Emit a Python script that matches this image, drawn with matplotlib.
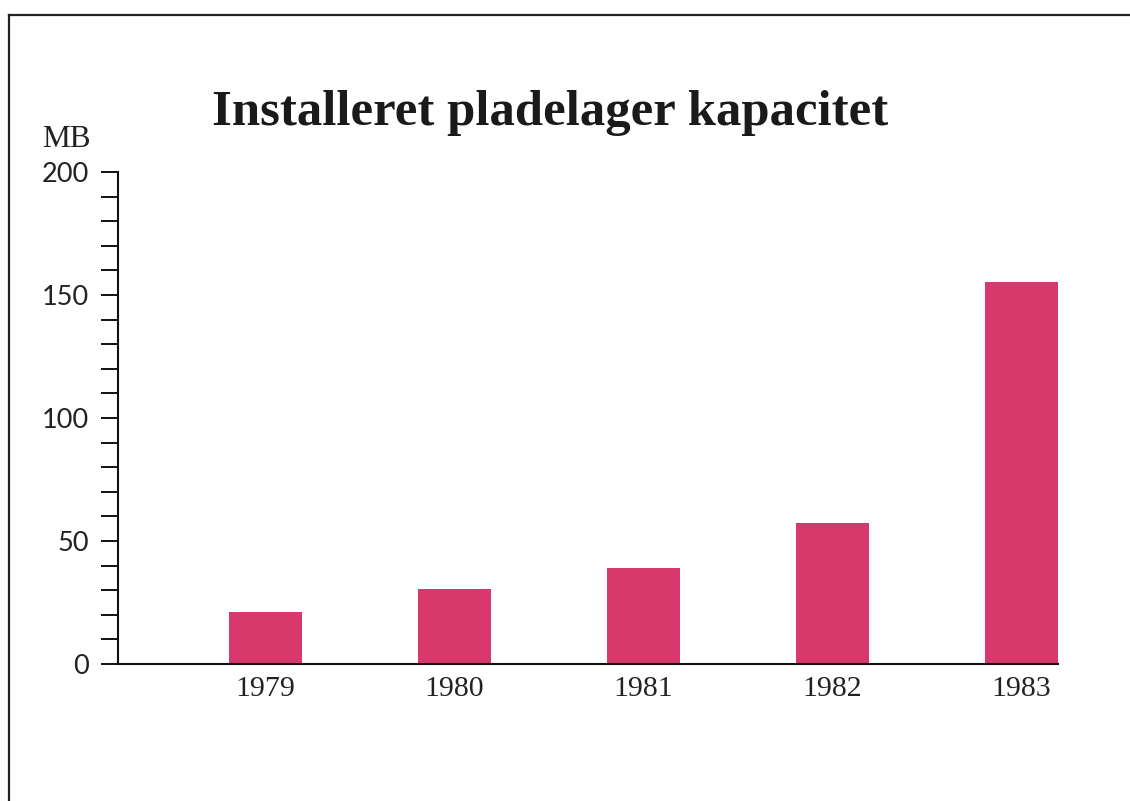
import matplotlib
matplotlib.use("Agg")
import matplotlib.pyplot as plt
from matplotlib.ticker import MultipleLocator
from matplotlib.lines import Line2D

years = ["1979", "1980", "1981", "1982", "1983"]
capacity_mb = [21.3, 30.4, 39.2, 57.2, 155.3]
y_ticks = [0, 50, 100, 150, 200]
title = "Installeret pladelager kapacitet"
unit = "MB"

W, H = 1130, 801
fig = plt.figure(figsize=(W / 100, H / 100), dpi=100)
fig.patch.set_facecolor("white")

# axes: y-axis at x=118px, top (200) at y=172px, zero at y=664px, right at 1058px
ax = fig.add_axes([118 / W, (H - 664) / H, (1058 - 118) / W, (664 - 172) / H])
x = list(range(len(years)))
ax.bar(x, capacity_mb, width=0.386, color="#d8386c", zorder=2)
ax.set_xlim(-0.780, 4.193)
ax.set_ylim(0, 200)

for s in ["top", "right"]:
    ax.spines[s].set_visible(False)
ax.spines["left"].set_linewidth(1.5)
ax.spines["bottom"].set_linewidth(1.5)
ax.spines["left"].set_color("#111111")
ax.spines["bottom"].set_color("#111111")

ax.yaxis.set_major_locator(MultipleLocator(50))
ax.yaxis.set_minor_locator(MultipleLocator(10))
ax.set_yticks(y_ticks)
ax.set_yticklabels([str(v) for v in y_ticks], family="Lato", fontweight="normal",
                   fontsize=19.5, color="#222222")
ax.tick_params(axis="y", which="both", direction="out", length=12.2,
               width=1.4, color="#111111", pad=9)
ax.set_xticks(x)
ax.set_xticklabels(years, family="Liberation Serif", fontsize=21.5, color="#222222")
ax.tick_params(axis="x", which="both", length=0, pad=9)

fig.text(42 / W, 1 - 147 / H, unit, family="Liberation Serif", fontsize=22.5,
         color="#222222", ha="left", va="baseline")
fig.text(550 / W, 1 - 125 / H, title, family="Liberation Serif",
         fontweight="bold", fontsize=36.5, color="#1a1a1a", ha="center",
         va="baseline")

# page frame: top and left lines
fig.add_artist(Line2D([9 / W, 1.0], [1 - 15 / H, 1 - 15 / H], color="#222222",
                      linewidth=1.6, transform=fig.transFigure))
fig.add_artist(Line2D([9 / W, 9 / W], [0.0, 1 - 15 / H], color="#222222",
                      linewidth=1.6, transform=fig.transFigure))

fig.savefig("out.png", dpi=100)
